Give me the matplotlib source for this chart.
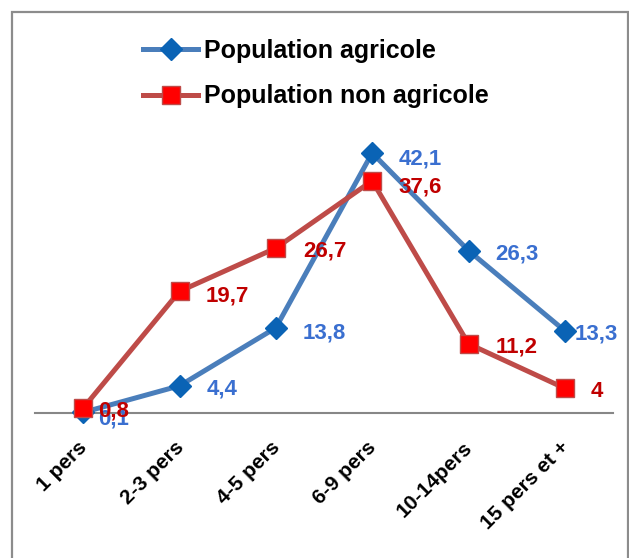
import matplotlib
matplotlib.use("Agg")
import matplotlib.pyplot as plt
from matplotlib.patches import Rectangle
from matplotlib.transforms import ScaledTranslation

categories = ["1 pers", "2-3 pers", "4-5 pers", "6-9 pers", "10-14pers", "15 pers et +"]
agricole = [0.1, 4.4, 13.8, 42.1, 26.3, 13.3]
non_agricole = [0.8, 19.7, 26.7, 37.6, 11.2, 4]
series_names = ["Population agricole", "Population non agricole"]

# label offsets in pixels (layout only)
off_agri = [(15, -7), (27, -3), (27, -5), (26, -6), (27, -3), (10, -3)]
off_nonagri = [(15, -3), (26, -5), (27, -3), (26, -6), (27, -3), (26, -3)]

plt.rcParams['font.family'] = ['Liberation Sans', 'DejaVu Sans']

W, H = 629, 558
fig = plt.figure(figsize=(W / 100, H / 100), dpi=100)

# outer border
fig.patches.append(Rectangle((12 / W, -0.05), (628 - 12) / W, 1 - 12 / H + 0.05,
                             transform=fig.transFigure, fill=False,
                             edgecolor='#8c8c8c', linewidth=1.6))

ax_left, ax_right, ax_bottom, ax_top = 35, 613, 413, 20
ax = fig.add_axes([ax_left / W, 1 - ax_bottom / H, (ax_right - ax_left) / W, (ax_bottom - ax_top) / H])
ax.set_xlim(-0.5, len(categories) - 0.5)
ax.set_ylim(0, (ax_bottom - ax_top) / 6.176)
ax.patch.set_alpha(0)

x = list(range(len(categories)))
blue_line = '#4a7ebb'
blue_mk = '#0a63b5'
red_line = '#be4b48'
red_mk = '#ff0000'

l1, = ax.plot(x, agricole, color=blue_line, linewidth=3.6, marker='D', markersize=11,
              markerfacecolor=blue_mk, markeredgecolor=blue_mk, clip_on=False, zorder=3,
              label=series_names[0])
l2, = ax.plot(x, non_agricole, color=red_line, linewidth=3.6, marker='s', markersize=13,
              markerfacecolor=red_mk, markeredgecolor=red_line, markeredgewidth=1.0,
              clip_on=False, zorder=4, label=series_names[1])

px = 0.72
for i, v in enumerate(agricole):
    dx, dy = off_agri[i]
    ax.annotate(f"{v:g}".replace('.', ','), (x[i], v), xytext=(dx * px, dy * px),
                textcoords='offset points', ha='left', va='center', fontsize=16,
                fontweight='bold', color='#3a6fd0', zorder=5, annotation_clip=False)
for i, v in enumerate(non_agricole):
    dx, dy = off_nonagri[i]
    ax.annotate(f"{v:g}".replace('.', ','), (x[i], v), xytext=(dx * px, dy * px),
                textcoords='offset points', ha='left', va='center', fontsize=16,
                fontweight='bold', color='#c00000', zorder=6, annotation_clip=False)

for s in ['top', 'right', 'left']:
    ax.spines[s].set_visible(False)
ax.spines['bottom'].set_color('#878787')
ax.spines['bottom'].set_linewidth(1.5)
ax.set_yticks([])
ax.set_xticks(x)
ax.set_xticklabels(categories, rotation=45, ha='right', va='top', fontsize=15, fontweight='bold')
ax.tick_params(axis='x', length=0, pad=18)
shift = ScaledTranslation(8 / 100, 0, fig.dpi_scale_trans)
for lab in ax.get_xticklabels():
    lab.set_transform(lab.get_transform() + shift)

leg = fig.legend(handles=[l1, l2], loc='upper left', bbox_to_anchor=(143 / W, 1 - 39 / H),
                 frameon=False, prop={'weight': 'bold', 'size': 18},
                 handlelength=2.2, handletextpad=0.25, labelspacing=0.85,
                 borderpad=0, borderaxespad=0)

fig.savefig("out.png", dpi=100)
